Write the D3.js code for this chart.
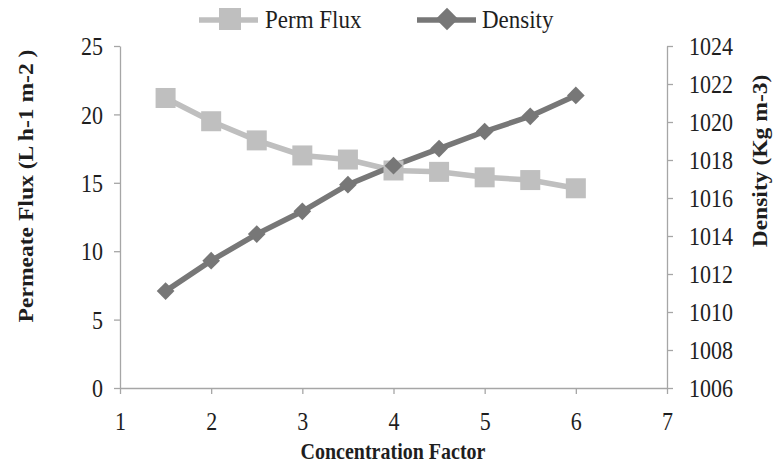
<!DOCTYPE html>
<html><head><meta charset="utf-8">
<script src="https://cdn.jsdelivr.net/npm/d3@7"></script>
<style>
body{margin:0;background:#fff;}
</style></head>
<body><svg id="c" width="778" height="471"></svg>
<script>
const concentration = [1.5, 2, 2.5, 3, 3.5, 4, 4.5, 5, 5.5, 6];
const permFlux = [21.2, 19.5, 18.1, 17.0, 16.7, 15.9, 15.8, 15.4, 15.2, 14.6];
const density = [1011.1, 1012.7, 1014.1, 1015.3, 1016.7, 1017.7, 1018.6, 1019.5, 1020.3, 1021.4];
const xTicks = [1, 2, 3, 4, 5, 6, 7];
const fluxTicks = [0, 5, 10, 15, 20, 25];
const densityTicks = [1006, 1008, 1010, 1012, 1014, 1016, 1018, 1020, 1022, 1024];

const FONT = "'Liberation Serif', 'Times New Roman', 'DejaVu Serif', serif";
const S = 1.15; // vertical stretch of text in reference
const svg = d3.select("#c").attr("font-family", FONT);
const x = d3.scaleLinear().domain([1, 7]).range([120, 667]);
const yL = d3.scaleLinear().domain([0, 25]).range([388, 46]);
const yR = d3.scaleLinear().domain([1006, 1024]).range([388, 46]);
const axisColor = "#a6a6a6";
const fluxColor = "#bfbfbf", densColor = "#777777";
const textColor = "#1e1e1e";

function stretchAbout(sel, y, s){ sel.attr("transform", `translate(0,${y*(1-s)}) scale(1,${s})`); }

function styleAxis(g){
  g.attr("font-family", FONT).attr("font-size", 22);
  g.selectAll("path,line").attr("stroke", axisColor).attr("stroke-width", 1.3);
  g.selectAll("text").attr("fill", textColor).attr("font-family", FONT);
}
const gx = svg.append("g").attr("transform","translate(0,388)")
  .call(d3.axisBottom(x).tickValues(xTicks).tickFormat(d3.format("d")).tickSize(6).tickSizeOuter(0))
  .call(styleAxis);
gx.selectAll(".tick text").attr("y", 42).attr("dy", 0).each(function(){ stretchAbout(d3.select(this), 42, S); });
const gl = svg.append("g").attr("transform","translate(120,0)")
  .call(d3.axisLeft(yL).tickValues(fluxTicks).tickFormat(d3.format("d")).tickSize(6).tickSizeOuter(0).tickPadding(11))
  .call(styleAxis);
gl.selectAll(".tick text").attr("dy","0.34em").each(function(){ stretchAbout(d3.select(this), 0, S); });
const gr = svg.append("g").attr("transform","translate(667,0)")
  .call(d3.axisRight(yR).tickValues(densityTicks).tickFormat(d3.format("d")).tickSize(6).tickSizeOuter(0).tickPadding(16))
  .call(styleAxis);
gr.selectAll(".tick text").attr("dy","0.34em").each(function(){ stretchAbout(d3.select(this), 0, S); });

const data = concentration.map((c,i)=>({c, f:permFlux[i], d:density[i]}));
svg.append("path").datum(data)
  .attr("d", d3.line().x(d=>x(d.c)).y(d=>yL(d.f)))
  .attr("fill","none").attr("stroke",fluxColor).attr("stroke-width",5.5);
svg.append("path").datum(data)
  .attr("d", d3.line().x(d=>x(d.c)).y(d=>yR(d.d)))
  .attr("fill","none").attr("stroke",densColor).attr("stroke-width",5.5);
const sq = 20;
svg.selectAll(".sq").data(data).enter().append("rect")
  .attr("x", d=>x(d.c)-sq/2).attr("y", d=>yL(d.f)-sq/2).attr("width",sq).attr("height",sq)
  .attr("fill",fluxColor);
const diam = d3.symbol().type(d3.symbolDiamond2).size(200);
svg.selectAll(".dm").data(data).enter().append("path")
  .attr("d", diam).attr("transform", d=>`translate(${x(d.c)},${yR(d.d)})`)
  .attr("fill",densColor);

// legend
const lg = svg.append("g");
const lsq = 22;
lg.append("line").attr("x1",199).attr("x2",258).attr("y1",20).attr("y2",20).attr("stroke",fluxColor).attr("stroke-width",5.5);
lg.append("rect").attr("x",230-lsq/2).attr("y",19-lsq/2).attr("width",lsq).attr("height",lsq).attr("fill",fluxColor);
const t1 = lg.append("text").attr("x",265).attr("y",28).attr("font-size",23).attr("fill",textColor).text("Perm Flux");
stretchAbout(t1, 28, 1.1);
lg.append("line").attr("x1",417).attr("x2",476).attr("y1",20).attr("y2",20).attr("stroke",densColor).attr("stroke-width",5.5);
lg.append("path").attr("d",d3.symbol().type(d3.symbolDiamond2).size(320)).attr("transform","translate(447,19)").attr("fill",densColor);
const t2 = lg.append("text").attr("x",482).attr("y",28).attr("font-size",23).attr("fill",textColor).text("Density");
stretchAbout(t2, 28, 1.1);

// titles
svg.append("text").attr("transform",`translate(32.5,186) scale(1,${S}) rotate(-90)`).attr("text-anchor","middle")
  .attr("font-size",20.5).attr("font-weight","bold").attr("fill",textColor).text("Permeate Flux (L h-1 m-2 )");
svg.append("text").attr("transform",`translate(767,161) scale(1,${S}) rotate(-90)`).attr("text-anchor","middle")
  .attr("font-size",20.5).attr("font-weight","bold").attr("fill",textColor).text("Density (Kg m-3)");
const xt = svg.append("text").attr("x",393).attr("y",459).attr("text-anchor","middle")
  .attr("font-size",20).attr("font-weight","bold").attr("fill",textColor).text("Concentration Factor");
stretchAbout(xt, 459, S);
</script></body></html>
